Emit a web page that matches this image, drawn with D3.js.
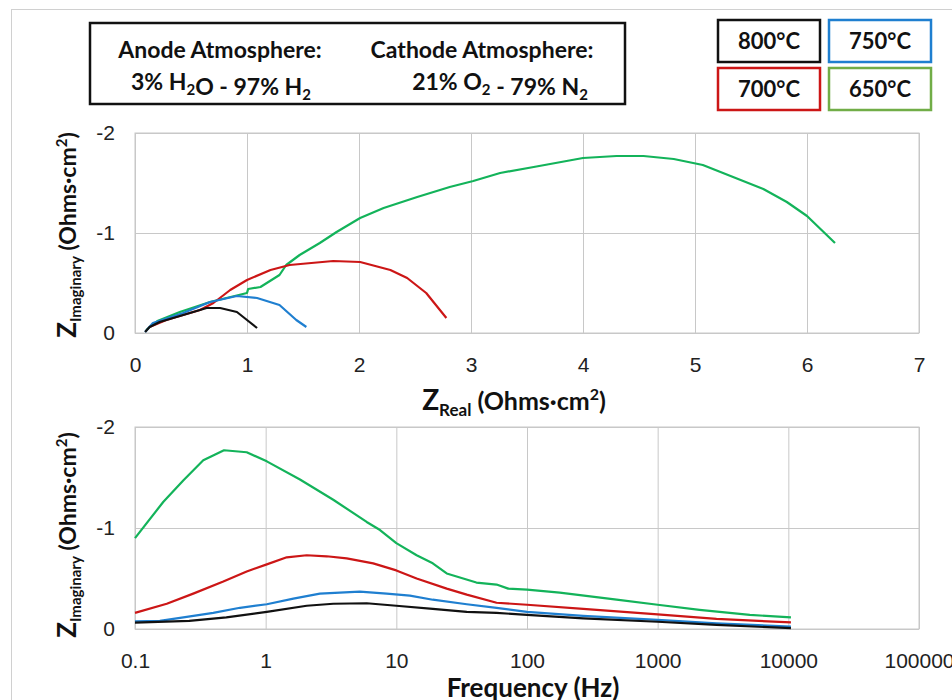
<!DOCTYPE html>
<html>
<head>
<meta charset="utf-8">
<script src="https://cdn.jsdelivr.net/npm/d3@7"></script>
<style>
  body { margin: 0; background: #fff; }
  svg { font-family: Lato, "Open Sans", sans-serif; }
  .axis text { font-size: 21px; fill: #222; }
  .axis .domain { display: none; }
  .grid line { stroke: #c8c8c8; stroke-width: 1; }
  .grid .domain { display: none; }
  .title { font-weight: bold; fill: #111; }
</style>
</head>
<body>
<svg id="chart" width="952" height="700"></svg>
<script>
const temps = ["800°C", "750°C", "700°C", "650°C"];

// Nyquist data: [Z real, Z imaginary] in Ohms·cm²
const nyq800 = [[0.09, -0.01], [0.13, -0.06], [0.22, -0.11], [0.43, -0.18], [0.64, -0.25], [0.76, -0.25], [0.91, -0.21], [1.0, -0.13], [1.09, -0.05]];
const nyq750 = [[0.09, -0.01], [0.16, -0.10], [0.43, -0.20], [0.67, -0.31], [0.91, -0.37], [1.09, -0.35], [1.29, -0.28], [1.44, -0.13], [1.53, -0.06]];
const nyq700 = [[0.13, -0.06], [0.28, -0.13], [0.58, -0.23], [0.70, -0.30], [0.85, -0.43], [1.0, -0.53], [1.21, -0.63], [1.38, -0.68], [1.77, -0.72], [2.01, -0.71], [2.28, -0.63], [2.43, -0.55], [2.60, -0.40], [2.78, -0.15]];
const nyq650 = [[0.10, -0.03], [0.20, -0.12], [0.40, -0.21], [0.67, -0.31], [1.0, -0.40], [1.01, -0.44], [1.12, -0.46], [1.29, -0.58], [1.35, -0.68], [1.47, -0.78], [1.65, -0.90], [1.80, -1.01], [2.01, -1.15], [2.22, -1.25], [2.52, -1.36], [2.81, -1.46], [3.02, -1.52], [3.26, -1.60], [3.56, -1.66], [4.0, -1.75], [4.30, -1.77], [4.54, -1.77], [4.81, -1.74], [5.07, -1.68], [5.34, -1.56], [5.61, -1.44], [5.82, -1.31], [6.0, -1.17], [6.25, -0.90]];

// Bode data: [frequency Hz, Z imaginary]
const bode800 = [[0.1, -0.063], [0.26, -0.08], [0.5, -0.115], [1.02, -0.17], [2.06, -0.23], [3.29, -0.25], [5.93, -0.255], [10, -0.23], [19, -0.20], [34.6, -0.17], [58.5, -0.16], [100, -0.14], [269, -0.105], [1000, -0.072], [2820, -0.04], [10470, -0.008]];
const bode750 = [[0.1, -0.076], [0.155, -0.08], [0.249, -0.12], [0.397, -0.16], [0.636, -0.21], [1.02, -0.245], [1.63, -0.30], [2.6, -0.35], [5.25, -0.37], [8.43, -0.35], [12.7, -0.33], [19, -0.29], [34.6, -0.245], [58.5, -0.21], [100, -0.17], [269, -0.13], [1000, -0.09], [2820, -0.056], [10470, -0.023]];
const bode700 = [[0.1, -0.16], [0.175, -0.25], [0.279, -0.35], [0.474, -0.47], [0.716, -0.57], [1.02, -0.64], [1.45, -0.71], [2.06, -0.73], [2.93, -0.72], [4.17, -0.70], [6.65, -0.65], [10, -0.58], [14.3, -0.50], [24.3, -0.40], [34.6, -0.34], [58.5, -0.26], [100, -0.24], [269, -0.20], [1000, -0.145], [2820, -0.10], [10470, -0.065]];
const bode650 = [[0.1, -0.90], [0.165, -1.26], [0.234, -1.47], [0.333, -1.67], [0.48, -1.77], [0.716, -1.75], [1.02, -1.66], [1.83, -1.48], [3.29, -1.28], [5.93, -1.06], [7.5, -0.98], [10, -0.85], [14.3, -0.73], [19, -0.65], [24.3, -0.55], [41, -0.46], [58.5, -0.44], [71.8, -0.40], [100, -0.39], [178, -0.36], [485, -0.29], [1000, -0.24], [2090, -0.19], [5070, -0.14], [10470, -0.115]];

const realTicks = [0, 1, 2, 3, 4, 5, 6, 7];
const imagTicks = [0, -1, -2];
const freqTicks = [0.1, 1, 10, 100, 1000, 10000, 100000];

const colors = { "800°C": "#111111", "750°C": "#1f7fd0", "700°C": "#cc1616", "650°C": "#13b35a" };
const boxColors = { "800°C": "#111111", "750°C": "#1f7fd0", "700°C": "#cc1616", "650°C": "#71ad47" };
const nyquist = { "800°C": nyq800, "750°C": nyq750, "700°C": nyq700, "650°C": nyq650 };
const bode = { "800°C": bode800, "750°C": bode750, "700°C": bode700, "650°C": bode650 };

const svg = d3.select("#chart");

// outer chart frame
svg.append("rect")
  .attr("x", 11.5).attr("y", 9.5)
  .attr("width", 1000).attr("height", 1000)
  .attr("fill", "none").attr("stroke", "#d0d0d0");

function drawPanel(opts) {
  const { left, top, width, height, x, y, xTicks, series } = opts;
  const g = svg.append("g").attr("transform", `translate(${left},${top})`);

  g.append("g").attr("class", "grid")
    .call(d3.axisLeft(y).tickValues(imagTicks).tickSize(-width).tickFormat(""));
  g.append("g").attr("class", "grid")
    .attr("transform", `translate(0,${height})`)
    .call(d3.axisBottom(x).tickValues(xTicks).tickSize(height).tickFormat(""))
    .selectAll("line").attr("y2", -height);

  g.append("rect")
    .attr("width", width).attr("height", height)
    .attr("fill", "none").attr("stroke", "#c8c8c8");

  g.append("g").attr("class", "axis")
    .call(d3.axisLeft(y).tickValues(imagTicks).tickSize(0).tickPadding(20).tickFormat(d => String(d)));
  g.append("g").attr("class", "axis")
    .attr("transform", `translate(0,${height})`)
    .call(d3.axisBottom(x).tickValues(xTicks).tickSize(0).tickPadding(24).tickFormat(d => String(d)));

  const line = d3.line().x(d => x(d[0])).y(d => y(d[1]));
  temps.slice().reverse().forEach(t => {
    g.append("path")
      .datum(series[t])
      .attr("fill", "none")
      .attr("stroke", colors[t])
      .attr("stroke-width", 2.2)
      .attr("stroke-linejoin", "round")
      .attr("d", line);
  });
  return g;
}

// top: Nyquist
const xReal = d3.scaleLinear().domain([0, 7]).range([0, 784]);
const yTop = d3.scaleLinear().domain([0, -2]).range([200, 0]);
drawPanel({ left: 135, top: 133, width: 784, height: 200, x: xReal, y: yTop, xTicks: realTicks, series: nyquist });

// bottom: Bode
const xFreq = d3.scaleLog().domain([0.1, 100000]).range([0, 784]);
const yBot = d3.scaleLinear().domain([0, -2]).range([202, 0]);
drawPanel({ left: 135, top: 427, width: 784, height: 202, x: xFreq, y: yBot, xTicks: freqTicks, series: bode });

// y axis titles
function yTitle(cy) {
  const t = svg.append("text").attr("class", "title")
    .attr("transform", `translate(76,${cy}) rotate(-90)`)
    .attr("text-anchor", "middle").style("font-size", "23px");
  t.append("tspan").style("font-size", "26px").text("Z");
  t.append("tspan").style("font-size", "15px").attr("dy", 5).text("Imaginary");
  t.append("tspan").attr("dy", -5).text(" (Ohms·cm");
  t.append("tspan").style("font-size", "15px").attr("dy", -9).text("2");
  t.append("tspan").attr("dy", 9).text(")");
}
yTitle(235);
yTitle(535);

// x axis titles
const xt = svg.append("text").attr("class", "title")
  .attr("x", 514).attr("y", 410).attr("text-anchor", "middle").style("font-size", "25px");
xt.append("tspan").style("font-size", "28px").text("Z");
xt.append("tspan").style("font-size", "17px").attr("dy", 6).text("Real");
xt.append("tspan").attr("dy", -6).text(" (Ohms·cm");
xt.append("tspan").style("font-size", "16px").attr("dy", -10).text("2");
xt.append("tspan").attr("dy", 10).text(")");

svg.append("text").attr("class", "title")
  .attr("x", 533).attr("y", 697).attr("text-anchor", "middle").style("font-size", "26px")
  .text("Frequency (Hz)");

// atmosphere box
svg.append("rect")
  .attr("x", 90).attr("y", 23).attr("width", 535).attr("height", 81)
  .attr("fill", "#fff").attr("stroke", "#111").attr("stroke-width", 2.5);

// parts: plain strings, or ["2"] arrays for subscripts
function atmText(x, y, parts) {
  const t = svg.append("text").attr("class", "title")
    .attr("x", x).attr("y", y).attr("text-anchor", "middle").style("font-size", "23px");
  parts.forEach(p => {
    if (Array.isArray(p)) {
      t.append("tspan").style("font-size", "15px").attr("dy", 5).text(p[0]);
      t.append("tspan").attr("dy", -5).text("");
    } else {
      t.append("tspan").text(p);
    }
  });
}
atmText(220, 58, ["Anode Atmosphere:"]);
atmText(482, 58, ["Cathode Atmosphere:"]);
atmText(221, 90, ["3% H", ["2"], "O - 97% H", ["2"]]);
atmText(500, 90, ["21% O", ["2"], " - 79% N", ["2"]]);

// temperature legend boxes
const legendPos = { "800°C": [718, 20], "750°C": [829, 20], "700°C": [718, 68], "650°C": [829, 68] };
temps.forEach(t => {
  const [lx, ly] = legendPos[t];
  svg.append("rect")
    .attr("x", lx).attr("y", ly).attr("width", 102).attr("height", 42)
    .attr("fill", "#fff").attr("stroke", boxColors[t]).attr("stroke-width", 2.5);
  svg.append("text").attr("class", "title")
    .attr("x", lx + 51).attr("y", ly + 29).attr("text-anchor", "middle")
    .style("font-size", "22px").text(t);
});
</script>
</body>
</html>
